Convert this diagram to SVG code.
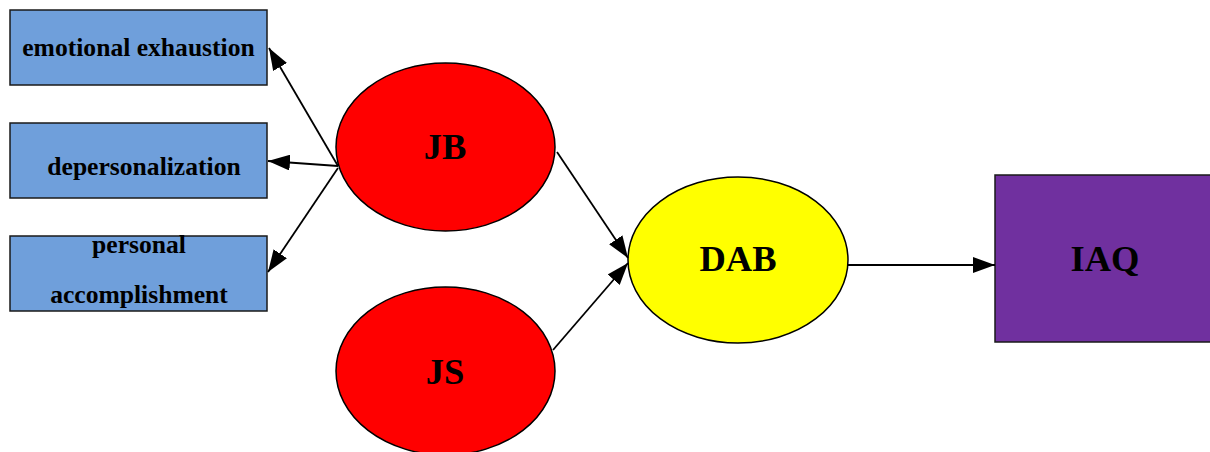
<svg xmlns="http://www.w3.org/2000/svg" width="1210" height="452" viewBox="0 0 1210 452">
<style>
.box{fill:#6f9fdb;stroke:#1a1a1a;stroke-width:1.5}
.ell{stroke:#000;stroke-width:1.5}
.t{font-family:"Liberation Serif",serif;font-weight:bold;fill:#000;text-anchor:middle}
.s{font-size:25.6px}
.b{font-size:36.5px}
.c{stroke:#000;stroke-width:1.8;fill:none;marker-end:url(#ah)}
</style>
<defs>
<marker id="ah" viewBox="0 0 22 16" refX="22" refY="8" markerWidth="22" markerHeight="16" markerUnits="userSpaceOnUse" orient="auto">
<path d="M0,0 L22,8 L0,16 z" fill="#000"/>
</marker>
</defs>
<rect width="1210" height="452" fill="#fff"/>
<g id="ee"><rect class="box" x="10" y="10" width="257" height="75"/><text class="t s" x="138.5" y="56">emotional exhaustion</text></g>
<g id="dp"><rect class="box" x="10" y="123" width="257" height="75"/><text class="t s" x="144" y="175">depersonalization</text></g>
<g id="pa"><rect class="box" x="10" y="236" width="257" height="75"/><text class="t s" x="139" y="253">personal</text><text class="t s" x="139" y="303">accomplishment</text></g>
<g id="JB"><ellipse class="ell" cx="445.5" cy="147" rx="109.5" ry="84" fill="#ff0000"/><text class="t b" x="445" y="159">JB</text></g>
<g id="JS"><ellipse class="ell" cx="445.5" cy="371" rx="109.5" ry="84" fill="#ff0000"/><text class="t b" x="445" y="384">JS</text></g>
<g id="DAB"><ellipse class="ell" cx="738" cy="260" rx="110" ry="83" fill="#ffff00"/><text class="t b" x="738" y="271">DAB</text></g>
<g id="IAQ"><rect x="995" y="175" width="220" height="167" fill="#70309f" stroke="#1a1a1a" stroke-width="1.5"/><text class="t b" x="1105" y="271">IAQ</text></g>
<g id="connectors">
<line class="c" x1="338" y1="166" x2="269" y2="48"/>
<line class="c" x1="338" y1="166" x2="268" y2="161"/>
<line class="c" x1="338" y1="168" x2="268" y2="272"/>
<line class="c" x1="557" y1="152" x2="628" y2="258"/>
<line class="c" x1="553" y1="350" x2="628" y2="263"/>
<line class="c" x1="848" y1="265" x2="995" y2="265"/>
</g>
</svg>
